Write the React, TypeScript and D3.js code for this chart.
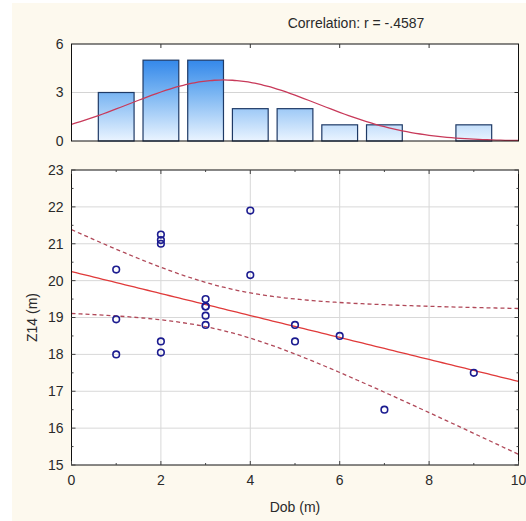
import React from "react";
import * as d3 from "d3";

const dob = [1, 1, 1, 2, 2, 2, 2, 2, 3, 3, 3, 3, 3, 4, 4, 5, 5, 6, 7, 9];
const z14 = [20.3, 18.95, 18.0, 21.25, 21.1, 21.0, 18.35, 18.05, 19.5, 19.3, 19.3, 19.05, 18.8, 21.9, 20.15, 18.8, 18.35, 18.5, 16.5, 17.5];
const histBins = [1, 2, 3, 4, 5, 6, 7, 8, 9];
const histCounts = [3, 5, 5, 2, 2, 1, 1, 0, 1];
const xTicks = [0, 2, 4, 6, 8, 10];
const yTicks = [15, 16, 17, 18, 19, 20, 21, 22, 23];
const histTicks = [0, 3, 6];
const title = "Correlation: r = -.4587";

const W = 526, H = 521;
const L = 71.5, R = 518.5;
const hTop = 44, hBot = 141;
const sTop = 170, sBot = 465;
const font = "Liberation Sans, Arial, sans-serif";
const fs = 14;
const txt = "#2a2a2a";

export default function App() {
  const x = d3.scaleLinear().domain([0, 10]).range([L, R]);
  const yh = d3.scaleLinear().domain([0, 6]).range([hBot, hTop]);
  const y = d3.scaleLinear().domain([15, 23]).range([sBot, sTop]);

  const n = dob.length;
  const mx = d3.mean(dob)!;
  const my = d3.mean(z14)!;
  const sxx = d3.sum(dob, (v) => (v - mx) ** 2);
  const sxy = d3.sum(dob, (v, i) => (v - mx) * (z14[i] - my));
  const slope = sxy / sxx;
  const icpt = my - slope * mx;
  const sse = d3.sum(dob, (v, i) => (z14[i] - (icpt + slope * v)) ** 2);
  const se = Math.sqrt(sse / (n - 2));
  const t = 2.1009;
  const xs = d3.range(0, 10.001, 0.1);
  const hw = (xv: number) => t * se * Math.sqrt(1 / n + (xv - mx) ** 2 / sxx);
  const line = d3.line<[number, number]>().x((d) => x(d[0])).y((d) => y(d[1]));
  const regPath = line(xs.map((v) => [v, icpt + slope * v]))!;
  const upPath = line(xs.map((v) => [v, icpt + slope * v + hw(v)]))!;
  const loPath = line(xs.map((v) => [v, icpt + slope * v - hw(v)]))!;

  const sd = Math.sqrt(d3.sum(dob, (v) => (v - mx) ** 2) / (n - 1));
  const normPts: [number, number][] = xs.map((v) => [
    v,
    (n * 1) / (sd * Math.sqrt(2 * Math.PI)) * Math.exp(-((v - mx) ** 2) / (2 * sd * sd)),
  ]);
  const normPath = d3.line<[number, number]>().x((d) => x(d[0])).y((d) => yh(d[1])).curve(d3.curveBasis)(normPts)!;

  const barW = x(0.8) - x(0);

  return (
    <svg width={W} height={H} style={{ position: "absolute", left: 0, top: 0 }}>
      <defs>
        <linearGradient id="barGrad" gradientUnits="userSpaceOnUse" x1="0" y1={hTop} x2="0" y2={hBot}>
          <stop offset="0" stopColor="#1272e6" />
          <stop offset="0.5" stopColor="#78b4f2" />
          <stop offset="1" stopColor="#eaf4ff" />
        </linearGradient>
        <clipPath id="hclip">
          <rect x={L} y={hTop} width={R - L} height={hBot - hTop} />
        </clipPath>
        <clipPath id="sclip">
          <rect x={L} y={sTop} width={R - L} height={sBot - sTop} />
        </clipPath>
      </defs>
      <rect x={0} y={0} width={W} height={H} fill="#ffffff" />
      <rect x={12} y={3} width={W - 12} height={H - 3} fill="#fdf9ee" />

      {/* histogram */}
      <rect x={L} y={hTop} width={R - L} height={hBot - hTop} fill="#ffffff" />
      <line x1={L} x2={R} y1={yh(3)} y2={yh(3)} stroke="#d4d4d4" />
      {histBins.map((b, i) =>
        histCounts[i] > 0 ? (
          <rect key={b} x={x(b) - barW / 2} y={yh(histCounts[i])} width={barW} height={yh(0) - yh(histCounts[i])}
            fill="url(#barGrad)" stroke="#1f3a66" strokeWidth={1.2} />
        ) : null
      )}
      <path d={normPath} fill="none" stroke="#c83a5a" strokeWidth={1.3} clipPath="url(#hclip)" />
      <rect x={L} y={hTop} width={R - L} height={hBot - hTop} fill="none" stroke="#111" strokeWidth={1} />
      {[2, 4, 6, 8].map((v) => (
        <line key={v} x1={x(v)} x2={x(v)} y1={hTop} y2={hTop + 4} stroke="#333" />
      ))}
      <line x1={R} x2={R - 4} y1={yh(3)} y2={yh(3)} stroke="#333" />
      {histTicks.map((v) => (
        <text key={v} x={L - 8} y={yh(v)} dy="0.35em" textAnchor="end" fontFamily={font} fontSize={fs} fill={txt}>{v}</text>
      ))}
      <text x={356} y={28} textAnchor="middle" fontFamily={font} fontSize={fs} fill={txt}>{title}</text>

      {/* scatter */}
      <rect x={L} y={sTop} width={R - L} height={sBot - sTop} fill="#ffffff" />
      {xTicks.slice(1, -1).map((v) => (
        <line key={"gx" + v} x1={x(v)} x2={x(v)} y1={sTop} y2={sBot} stroke="#d8d8d8" />
      ))}
      {yTicks.slice(1, -1).map((v) => (
        <line key={"gy" + v} x1={L} x2={R} y1={y(v)} y2={y(v)} stroke="#d8d8d8" />
      ))}
      <g clipPath="url(#sclip)">
        <path d={upPath} fill="none" stroke="#b04858" strokeWidth={1.3} strokeDasharray="4,3" />
        <path d={loPath} fill="none" stroke="#b04858" strokeWidth={1.3} strokeDasharray="4,3" />
        <path d={regPath} fill="none" stroke="#e03a3a" strokeWidth={1.3} />
      </g>
      {dob.map((v, i) => (
        <circle key={i} cx={x(v)} cy={y(z14[i])} r={3.3} fill="none" stroke="#1c1c90" strokeWidth={1.6} />
      ))}
      <rect x={L} y={sTop} width={R - L} height={sBot - sTop} fill="none" stroke="#111" strokeWidth={1} />
      {d3.range(0, 10.01, 1).map((v) => (
        <g key={"tx" + v}>
          <line x1={x(v)} x2={x(v)} y1={sTop} y2={sTop + (v % 2 === 0 ? 4 : 2)} stroke="#444" />
          <line x1={x(v)} x2={x(v)} y1={sBot} y2={sBot - (v % 2 === 0 ? 4 : 2)} stroke="#444" />
        </g>
      ))}
      {d3.range(15, 23.01, 0.5).map((v) => (
        <g key={"ty" + v}>
          <line x1={L} x2={L + (v % 1 === 0 ? 4 : 2)} y1={y(v)} y2={y(v)} stroke="#444" />
          <line x1={R} x2={R - (v % 1 === 0 ? 4 : 2)} y1={y(v)} y2={y(v)} stroke="#444" />
        </g>
      ))}
      {xTicks.map((v) => (
        <text key={"lx" + v} x={x(v)} y={485} textAnchor="middle" fontFamily={font} fontSize={fs} fill={txt}>{v}</text>
      ))}
      {yTicks.map((v) => (
        <text key={"ly" + v} x={L - 8} y={y(v)} dy="0.35em" textAnchor="end" fontFamily={font} fontSize={fs} fill={txt}>{v}</text>
      ))}
      <text x={295} y={512} textAnchor="middle" fontFamily={font} fontSize={fs} fill={txt}>Dob (m)</text>
      <text transform={`translate(37,${(sTop + sBot) / 2}) rotate(-90)`} textAnchor="middle" fontFamily={font} fontSize={fs} fill={txt}>Z14 (m)</text>
    </svg>
  );
}
